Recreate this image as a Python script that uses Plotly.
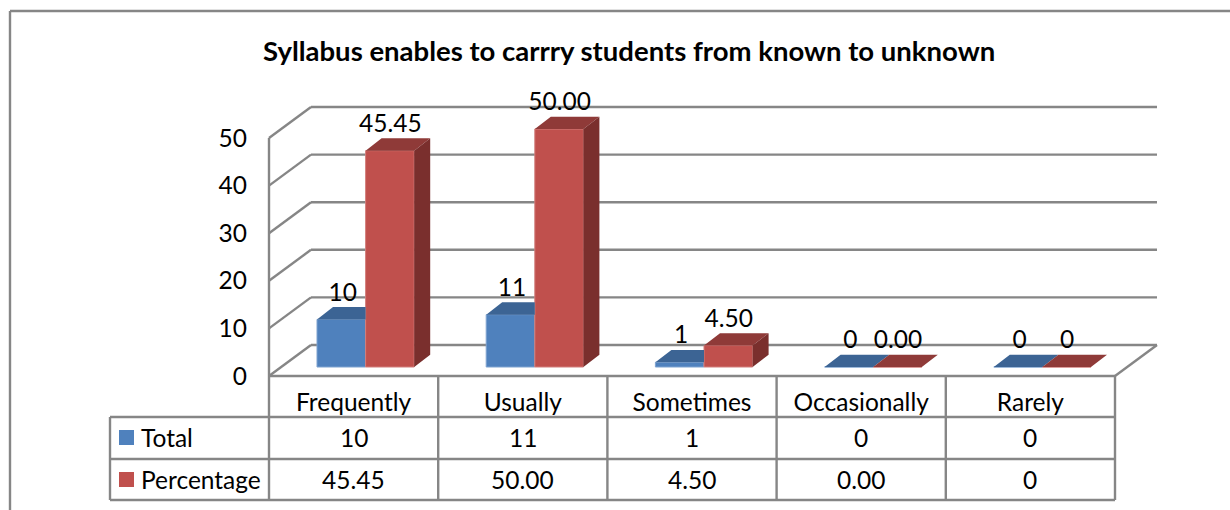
import plotly.graph_objects as go

title = "Syllabus enables to carrry students from known to unknown"
categories = ["Frequently", "Usually", "Sometimes", "Occasionally", "Rarely"]
total = [10, 11, 1, 0, 0]
percentage = [45.45, 50.00, 4.50, 0.00, 0]
total_labels = ["10", "11", "1", "0", "0"]
percentage_labels = ["45.45", "50.00", "4.50", "0.00", "0"]
y_ticks = [0, 10, 20, 30, 40, 50]

W, H = 1230, 510
X0, CAT_W = 269.0, 169.2     # pixel of category 0 edge, category width
Y0, PX_PER_UNIT = 376.0, 4.76  # pixel of value 0 on the front wall, px per value unit
FONT = "Lato"
FS = 24.5
GREY = "#868686"
BLUE, BLUE_TOP = "#4F81BD", "#3C6494"
RED, RED_TOP, RED_SIDE = "#C0504D", "#8F3A38", "#7A2F2D"

def dx(px): return px / CAT_W
def dv(px): return px / PX_PER_UNIT
def fx(px): return px / W
def fy(py): return 1 - py / H

WALL_DX, WALL_DY = dx(42), dv(31)
BASE = dv(9)
BAR_W = dx(48.6)
BLUE_L = dx(317 - X0)
RED_L = BLUE_L + BAR_W
DEPTH_X, DEPTH_Y = dx(16), dv(12.3)
N = len(categories)

fig = go.Figure()
lines = []
def line(x0, y0, x1, y1, ref="data", width=2.4, color=GREY):
    r = dict(xref="x", yref="y") if ref == "data" else dict(xref="paper", yref="paper")
    lines.append(dict(type="line", x0=x0, y0=y0, x1=x1, y1=y1, layer="below",
                      line=dict(color=color, width=width), **r))

# walls and gridlines
for t in y_ticks:
    line(0, t, WALL_DX, t + WALL_DY)
    line(WALL_DX, t + WALL_DY, N + WALL_DX, t + WALL_DY)
line(0, 0, 0, y_ticks[-1])
line(0, 0, N, 0)
line(N, 0, N + WALL_DX, WALL_DY)

# front faces
fig.add_bar(x=[i + BLUE_L + BAR_W / 2 for i in range(N)], y=total, base=BASE, width=BAR_W,
            marker=dict(color=BLUE, line=dict(color="#7EA3D0", width=1)), name="Total")
fig.add_bar(x=[i + RED_L + BAR_W / 2 for i in range(N)], y=percentage, base=BASE, width=BAR_W,
            marker=dict(color=RED, line=dict(color="#D27F7C", width=1)), name="Percentage")

def polygons(fill, values, shape):
    xs, ys = [], []
    for i, v in enumerate(values):
        px, py = shape(i, v + BASE)
        xs += px + [None]
        ys += py + [None]
    fig.add_scatter(x=xs, y=ys, mode="lines", fill="toself", fillcolor=fill,
                    line=dict(width=0, color=fill), hoverinfo="skip")

def blue_top(i, t):
    # the taller red front hides the right end of the blue top
    right = i + RED_L if percentage[i] > total[i] else i + RED_L + DEPTH_X
    return ([i + BLUE_L, i + RED_L, right, i + BLUE_L + DEPTH_X, i + BLUE_L],
            [t, t, t + DEPTH_Y, t + DEPTH_Y, t])

polygons(BLUE_TOP, total, blue_top)
polygons(RED_TOP, percentage, lambda i, t: (
    [i + RED_L, i + RED_L + BAR_W, i + RED_L + BAR_W + DEPTH_X, i + RED_L + DEPTH_X, i + RED_L],
    [t, t, t + DEPTH_Y, t + DEPTH_Y, t]))
polygons(RED_SIDE, percentage, lambda i, t: (
    [i + RED_L + BAR_W, i + RED_L + BAR_W + DEPTH_X, i + RED_L + BAR_W + DEPTH_X, i + RED_L + BAR_W, i + RED_L + BAR_W],
    [BASE, BASE + DEPTH_Y, t + DEPTH_Y, t, BASE]))

# data labels
LABEL_UP = dv(25)
fig.add_scatter(x=[i + BLUE_L + BAR_W / 2 + dx(1.5) for i in range(N)],
                y=[v + BASE + LABEL_UP for v in total], mode="text", text=total_labels,
                textposition="middle center", textfont=dict(family=FONT, size=FS, color="black"), hoverinfo="skip")
fig.add_scatter(x=[i + RED_L + BAR_W / 2 + dx(0.5) for i in range(N)],
                y=[v + BASE + LABEL_UP for v in percentage], mode="text", text=percentage_labels,
                textposition="middle center", textfont=dict(family=FONT, size=FS, color="black"), hoverinfo="skip")

# table
TBL_L, TBL_R = 110, X0 + N * CAT_W
ROWS = [417, 459, 500]
for r in ROWS:
    line(fx(TBL_L), fy(r), fx(TBL_R), fy(r), ref="paper")
line(fx(TBL_L), fy(ROWS[0]), fx(TBL_L), fy(ROWS[-1]), ref="paper")
for i in range(N + 1):
    bx = X0 + i * CAT_W
    line(fx(bx), fy(Y0), fx(bx), fy(ROWS[-1]), ref="paper")
# outer frame
line(fx(10), fy(11), fx(W), fy(11), ref="paper")
line(fx(10), fy(11), fx(10), fy(H), ref="paper")

anns = []
def txt(s, xpx, ypx, anchor="center", size=FS, bold=False):
    anns.append(dict(text=f"<b>{s}</b>" if bold else s, x=fx(xpx), y=fy(ypx), xref="paper", yref="paper",
                     xanchor=anchor, yanchor="middle", showarrow=False,
                     font=dict(family=FONT, size=size, color="black")))

txt(title, 628.5, 51, size=27.5, bold=True)
for row_y, labels in ((437.5, total_labels), (479.5, percentage_labels)):
    for i, s in enumerate(labels):
        txt(s, X0 + (i + 0.5) * CAT_W, row_y)
txt("Total", 138.5, 437.5, anchor="left")
txt("Percentage", 138.5, 479.5, anchor="left")
for ypx, c in ((430, BLUE), (472, RED)):
    lines.append(dict(type="rect", xref="paper", yref="paper", x0=fx(119), x1=fx(134),
                      y0=fy(ypx), y1=fy(ypx + 15), fillcolor=c, line=dict(width=0)))

fig.update_layout(
    width=W, height=H, margin=dict(l=0, r=0, t=0, b=0), showlegend=False, barmode="overlay",
    paper_bgcolor="white", plot_bgcolor="white", shapes=lines, annotations=anns,
    xaxis=dict(domain=[0, 1], range=[-X0 / CAT_W, (W - X0) / CAT_W], tickmode="array",
               tickvals=[i + 0.5 for i in range(N)], ticktext=categories, showgrid=False,
               zeroline=False, showline=False, ticks="", anchor="free", position=fy(Y0),
               ticklabelstandoff=9, tickfont=dict(family=FONT, size=FS, color="black")),
    yaxis=dict(domain=[0, 1], range=[(Y0 - H) / PX_PER_UNIT, Y0 / PX_PER_UNIT], tickmode="array",
               tickvals=y_ticks, showgrid=False, zeroline=False, showline=False, ticks="",
               anchor="free", position=fx(X0), ticklabelstandoff=22,
               tickfont=dict(family=FONT, size=FS, color="black")),
)
fig.write_html("out.html", config={"displayModeBar": False},
               post_script="document.body.style.margin='0';")
